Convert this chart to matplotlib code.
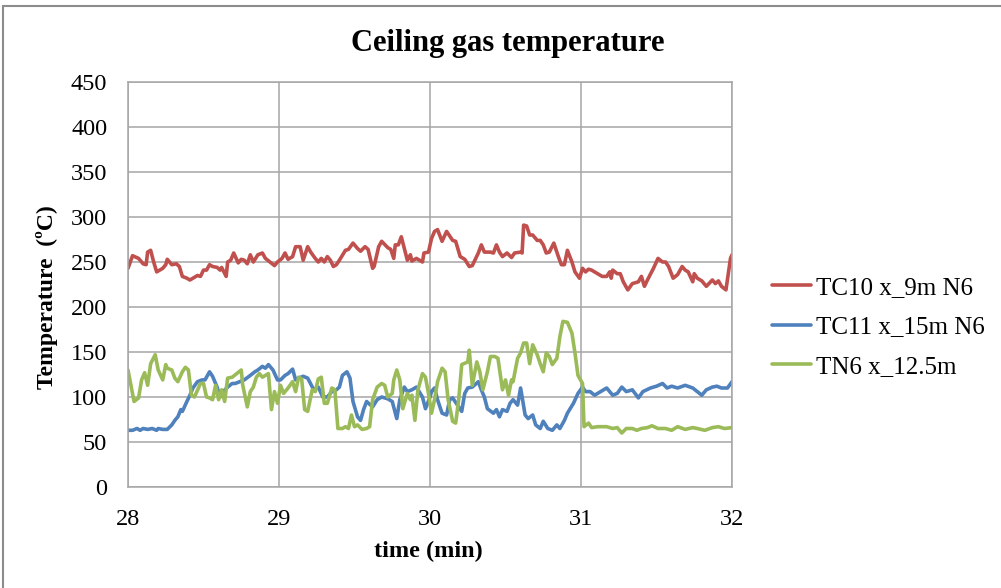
import matplotlib
matplotlib.use("Agg")
import matplotlib.pyplot as plt
from matplotlib.patches import Rectangle

title = "Ceiling gas temperature"
xlabel = "time (min)"
ylabel = "Temperature  (ºC)"
series_names = ["TC10 x_9m N6", "TC11 x_15m N6", "TN6 x_12.5m"]
series_colors = ["#C0504D", "#4F81BD", "#9BBB59"]
x_ticks = [28, 29, 30, 31, 32]
y_ticks = [0, 50, 100, 150, 200, 250, 300, 350, 400, 450]

tc10_t = [28.00, 28.03, 28.07, 28.10, 28.12, 28.13, 28.15, 28.17, 28.19, 28.23, 28.25, 28.26, 28.29, 28.32,
          28.34, 28.36, 28.39, 28.41, 28.43, 28.46, 28.48, 28.50, 28.52, 28.54, 28.56, 28.59, 28.61, 28.62,
          28.65, 28.66, 28.68, 28.70, 28.73, 28.75, 28.77, 28.79, 28.81, 28.83, 28.86, 28.89, 28.91, 28.94,
          28.97, 28.99, 29.02, 29.04, 29.06, 29.09, 29.11, 29.14, 29.16, 29.19, 29.21, 29.24, 29.26, 29.28,
          29.30, 29.32, 29.34, 29.36, 29.38, 29.40, 29.44, 29.46, 29.49, 29.52, 29.54, 29.57, 29.59, 29.62,
          29.63, 29.66, 29.68, 29.72, 29.74, 29.76, 29.77, 29.79, 29.81, 29.83, 29.85, 29.87, 29.88, 29.91,
          29.93, 29.95, 29.96, 29.99, 30.01, 30.03, 30.05, 30.08, 30.11, 30.15, 30.17, 30.20, 30.23, 30.26,
          30.28, 30.32, 30.34, 30.36, 30.40, 30.42, 30.44, 30.46, 30.48, 30.51, 30.54, 30.56, 30.60, 30.61,
          30.62, 30.64, 30.66, 30.68, 30.71, 30.73, 30.75, 30.77, 30.79, 30.82, 30.85, 30.87, 30.89, 30.91,
          30.94, 30.96, 30.99, 31.01, 31.03, 31.05, 31.07, 31.11, 31.14, 31.17, 31.19, 31.20, 31.21, 31.24,
          31.26, 31.28, 31.31, 31.34, 31.38, 31.40, 31.42, 31.44, 31.48, 31.51, 31.54, 31.56, 31.58, 31.61,
          31.64, 31.67, 31.69, 31.71, 31.74, 31.75, 31.77, 31.80, 31.83, 31.87, 31.89, 31.91, 31.93, 31.96,
          31.99, 32.00]
tc10_v = [243, 257, 254, 248, 247, 261, 263, 250, 239, 243, 247, 253, 247, 248,
          245, 234, 232, 230, 232, 235, 234, 241, 241, 247, 245, 244, 241, 244,
          234, 250, 252, 260, 249, 253, 252, 248, 258, 250, 258, 260, 254, 250,
          246, 250, 254, 260, 253, 256, 267, 267, 252, 267, 261, 254, 250, 254,
          250, 256, 252, 245, 247, 252, 263, 264, 271, 265, 262, 267, 264, 243,
          245, 267, 273, 266, 264, 254, 269, 269, 278, 265, 252, 258, 251, 254,
          252, 250, 260, 261, 276, 284, 286, 273, 284, 274, 273, 256, 253, 245,
          246, 260, 269, 261, 261, 260, 269, 261, 256, 260, 255, 260, 261, 260,
          291, 290, 280, 280, 274, 274, 269, 260, 261, 271, 256, 247, 247, 263,
          250, 239, 232, 243, 239, 242, 241, 237, 234, 234, 239, 232, 241, 237,
          237, 228, 219, 226, 228, 234, 223, 230, 243, 254, 250, 250, 245, 232,
          236, 245, 241, 239, 228, 237, 232, 229, 223, 230, 226, 229, 223, 219,
          254, 258]

tc11_t = [28.00, 28.03, 28.06, 28.08, 28.10, 28.13, 28.16, 28.19, 28.20, 28.23, 28.26, 28.29, 28.31, 28.33,
          28.35, 28.36, 28.39, 28.41, 28.43, 28.46, 28.49, 28.51, 28.54, 28.56, 28.59, 28.61, 28.63, 28.66,
          28.69, 28.71, 28.74, 28.77, 28.81, 28.84, 28.86, 28.89, 28.91, 28.93, 28.96, 28.99, 29.01, 29.04,
          29.06, 29.09, 29.11, 29.13, 29.16, 29.19, 29.23, 29.26, 29.29, 29.32, 29.35, 29.38, 29.40, 29.42,
          29.45, 29.47, 29.49, 29.52, 29.54, 29.56, 29.58, 29.62, 29.65, 29.68, 29.72, 29.75, 29.78, 29.80,
          29.83, 29.85, 29.88, 29.91, 29.95, 29.97, 30.00, 30.01, 30.03, 30.05, 30.08, 30.11, 30.13, 30.15,
          30.19, 30.21, 30.23, 30.25, 30.28, 30.32, 30.34, 30.36, 30.38, 30.42, 30.44, 30.46, 30.48, 30.51,
          30.53, 30.55, 30.58, 30.60, 30.63, 30.65, 30.68, 30.70, 30.73, 30.75, 30.78, 30.81, 30.84, 30.86,
          30.89, 30.91, 30.95, 30.98, 31.01, 31.03, 31.06, 31.09, 31.13, 31.17, 31.21, 31.24, 31.27, 31.30,
          31.34, 31.38, 31.41, 31.46, 31.50, 31.54, 31.57, 31.60, 31.64, 31.69, 31.74, 31.77, 31.80, 31.83,
          31.87, 31.90, 31.93, 31.97, 32.00]
tc11_v = [63, 63, 65, 63, 65, 64, 65, 63, 65, 64, 64, 69, 74, 78,
          86, 84, 95, 102, 110, 117, 119, 119, 128, 123, 111, 100, 106, 111,
          115, 115, 117, 119, 124, 128, 130, 134, 132, 136, 130, 119, 119, 124,
          126, 131, 119, 121, 123, 121, 108, 111, 100, 100, 106, 108, 111, 124,
          128, 121, 95, 78, 74, 86, 95, 89, 97, 100, 98, 95, 76, 97,
          111, 106, 108, 111, 100, 87, 100, 106, 110, 97, 82, 80, 97, 99,
          89, 84, 104, 110, 111, 117, 108, 100, 87, 82, 86, 78, 86, 84,
          93, 97, 91, 110, 80, 76, 80, 69, 65, 73, 65, 63, 69, 65,
          74, 82, 93, 104, 111, 106, 106, 102, 106, 110, 102, 104, 111, 106,
          108, 99, 106, 110, 112, 115, 110, 112, 110, 113, 110, 106, 102, 108,
          111, 112, 110, 110, 117]

tn6_t = [28.00, 28.03, 28.04, 28.07, 28.09, 28.11, 28.13, 28.15, 28.18, 28.20, 28.23, 28.25, 28.26, 28.29,
         28.31, 28.33, 28.36, 28.38, 28.40, 28.42, 28.44, 28.48, 28.50, 28.52, 28.54, 28.56, 28.58, 28.60,
         28.62, 28.64, 28.66, 28.69, 28.72, 28.75, 28.76, 28.79, 28.81, 28.83, 28.85, 28.87, 28.89, 28.93,
         28.95, 28.97, 28.99, 29.01, 29.03, 29.06, 29.09, 29.11, 29.13, 29.15, 29.17, 29.19, 29.22, 29.24,
         29.26, 29.28, 29.30, 29.32, 29.35, 29.37, 29.39, 29.42, 29.44, 29.46, 29.48, 29.50, 29.52, 29.55,
         29.58, 29.60, 29.62, 29.65, 29.68, 29.70, 29.72, 29.75, 29.76, 29.78, 29.80, 29.82, 29.85, 29.87,
         29.88, 29.90, 29.92, 29.95, 29.97, 29.99, 30.01, 30.03, 30.05, 30.08, 30.10, 30.12, 30.15, 30.17,
         30.19, 30.21, 30.25, 30.26, 30.28, 30.31, 30.33, 30.35, 30.38, 30.40, 30.43, 30.45, 30.48, 30.50,
         30.52, 30.54, 30.55, 30.58, 30.60, 30.62, 30.64, 30.66, 30.68, 30.71, 30.73, 30.75, 30.77, 30.79,
         30.81, 30.84, 30.86, 30.88, 30.91, 30.94, 30.96, 30.98, 31.01, 31.02, 31.05, 31.07, 31.11, 31.14,
         31.17, 31.21, 31.24, 31.27, 31.30, 31.34, 31.37, 31.40, 31.44, 31.47, 31.51, 31.56, 31.60, 31.64,
         31.69, 31.74, 31.77, 31.82, 31.87, 31.91, 31.95, 32.00]
tn6_v = [130, 104, 95, 99, 119, 127, 113, 137, 147, 130, 119, 136, 132, 130,
         121, 117, 128, 133, 130, 102, 100, 115, 115, 100, 99, 97, 113, 97,
         108, 95, 121, 122, 126, 130, 113, 89, 106, 111, 122, 126, 122, 126,
         86, 106, 93, 113, 104, 110, 117, 106, 122, 120, 86, 84, 108, 106,
         120, 122, 93, 93, 110, 108, 65, 65, 67, 65, 80, 67, 69, 64,
         65, 67, 97, 111, 115, 113, 100, 104, 119, 130, 119, 87, 104, 97,
         102, 74, 108, 126, 122, 104, 82, 97, 117, 132, 128, 97, 73, 71,
         97, 136, 139, 152, 113, 139, 128, 108, 128, 145, 145, 143, 108, 119,
         102, 119, 117, 143, 149, 160, 160, 137, 158, 147, 137, 128, 149, 145,
         136, 143, 167, 184, 183, 171, 149, 124, 115, 67, 71, 66, 67, 67,
         67, 65, 66, 60, 65, 65, 63, 65, 66, 68, 65, 65, 63, 67,
         64, 66, 65, 63, 66, 67, 65, 66]

plt.rcParams['font.family'] = ['Liberation Serif', 'DejaVu Serif']

W, H = 1001, 588
fig = plt.figure(figsize=(W / 100, H / 100), dpi=100)
ax = fig.add_axes([128 / W, 1 - 487 / H, (732 - 128) / W, (487 - 82) / H])

grid_c = "#A6A6A6"
for t, v, c, n in zip([tc10_t, tc11_t, tn6_t], [tc10_v, tc11_v, tn6_v], series_colors, series_names):
    ax.plot(t, v, color=c, lw=2.6, label=n, solid_joinstyle='round', solid_capstyle='round')

ax.set_xlim(x_ticks[0], x_ticks[-1])
ax.set_ylim(y_ticks[0], y_ticks[-1])
ax.set_xticks(x_ticks)
ax.set_yticks(y_ticks)
ax.tick_params(length=0, labelsize=17.5, colors="black")
ax.tick_params(axis='x', pad=16)
ax.tick_params(axis='y', pad=15)
ax.grid(True, color=grid_c, lw=1.1)
ax.set_axisbelow(True)
for s in ax.spines.values():
    s.set_color(grid_c)
    s.set_linewidth(1.1)

fig.text(508 / W, 1 - 44 / H, title, ha='center', va='center', fontsize=22, fontweight='bold')
ax.set_xlabel(xlabel, fontsize=17.5, fontweight='bold')
ax.xaxis.set_label_coords(0.498, -0.16)
ax.xaxis.label.set_va('center')
ax.set_ylabel(ylabel, fontsize=17, fontweight='bold')
ax.yaxis.set_label_coords(-0.134, 0.47)
ax.yaxis.label.set_va('center')

leg = fig.legend(loc='center left', bbox_to_anchor=(772 / W, 1 - 327 / H), frameon=False,
                 fontsize=18, handlelength=1.55, handletextpad=0.2, labelspacing=0.68,
                 borderpad=0, borderaxespad=0)

fig.patches.append(Rectangle((3 / W, -0.05), 1.2, 1 - 6 / H + 0.05, transform=fig.transFigure,
                             fill=False, edgecolor="#8C8C8C", lw=1.5))

fig.savefig("out.png", dpi=100)
